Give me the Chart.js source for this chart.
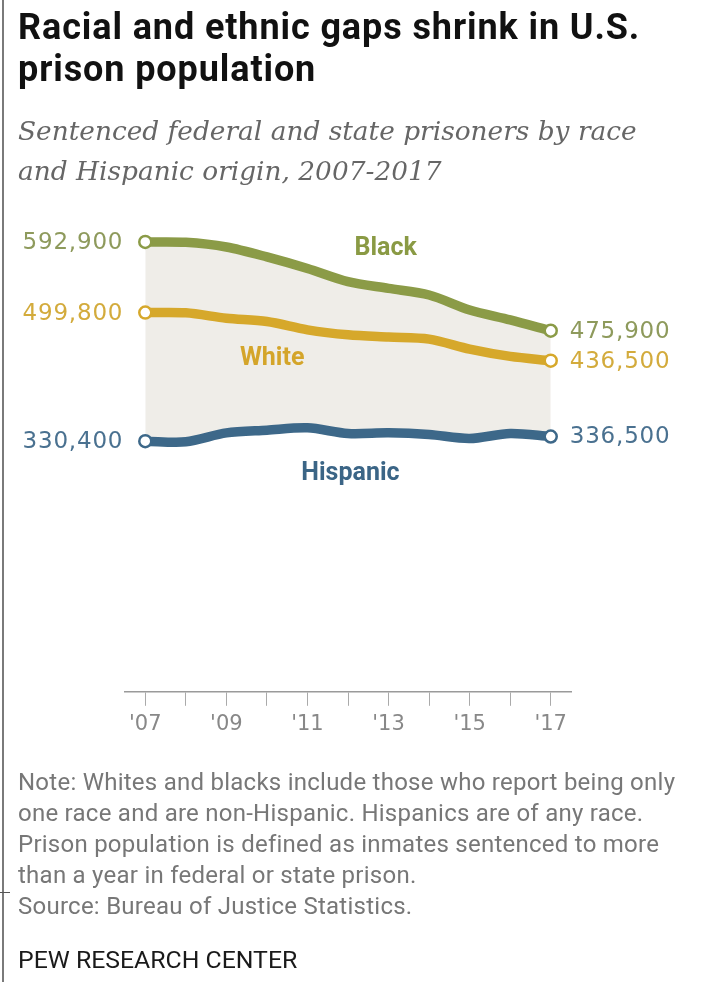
<!DOCTYPE html>
<html>
<head>
<meta charset="utf-8">
<script src="https://cdn.jsdelivr.net/npm/chart.js@4"></script>
<style>
  html, body { margin: 0; padding: 0; background: #fff; }
  #page { position: relative; width: 713px; height: 982px; overflow: hidden; }
  #chart { position: absolute; left: 0; top: 0; }
  .txt { position: absolute; left: 18px; white-space: nowrap; }
  #title { top: 6px; font: bold 36px Roboto, sans-serif; letter-spacing: 0.9px; line-height: 42px; color: #111; }
  #subtitle { top: 111px; font: italic 26.4px "DejaVu Serif", serif; line-height: 40px; color: #666; }
  #note { top: 767px; font: 24px Roboto, sans-serif; letter-spacing: 0.25px; line-height: 31px; color: #777; }
  #credit { top: 944px; font: 24.8px Roboto, sans-serif; line-height: 32px; color: #1a1a1a; }
  #edge { position: absolute; left: 2px; top: 0; width: 2px; height: 982px; background: #7a7a7a; }
  #edgeTick { position: absolute; left: 0; top: 892px; width: 10px; height: 1px; background: #555; }
</style>
</head>
<body>
<div id="page">
  <canvas id="chart" width="713" height="982"></canvas>
  <div id="edge"></div>
  <div id="edgeTick"></div>
  <div id="title" class="txt">Racial and ethnic gaps shrink in U.S.<br>prison population</div>
  <div id="subtitle" class="txt">Sentenced federal and state prisoners by race<br>and Hispanic origin, 2007-2017</div>
  <div id="note" class="txt">Note: Whites and blacks include those who report being only<br>one race and are non-Hispanic. Hispanics are of any race.<br>Prison population is defined as inmates sentenced to more<br>than a year in federal or state prison.<br>Source: Bureau of Justice Statistics.</div>
  <div id="credit" class="txt">PEW RESEARCH CENTER</div>
</div>
<script>
// Sentenced prisoners, 2007-2017
const years = ['2007', '2008', '2009', '2010', '2011', '2012', '2013', '2014', '2015', '2016', '2017'];
const black = [592900, 592500, 586300, 573200, 557900, 540500, 531700, 523000, 503300, 490200, 475900];
const white = [499800, 499500, 492400, 488000, 477100, 470500, 467500, 464800, 451700, 442100, 436500];
const hispanic = [330400, 329500, 341300, 344800, 347900, 340500, 341300, 339100, 333900, 340500, 336500];
const seriesNames = ['Black', 'White', 'Hispanic'];

const lineColors = ['#8b9b47', '#d6a82b', '#3d6889'];
const valueColors = ['#8e9a5c', '#d3ab3c', '#4a7190'];
const nameColors = ['#8a9a44', '#d4a52a', '#3b6586'];

// hollow circle only at the two ends of each line
function endRadius(values) {
  return values.map((v, i) => (i === 0 || i === values.length - 1) ? 6 : 0);
}

// series names sit inside the plot: [category index, value]
const nameAnchors = [[5.93, 584500], [3.13, 439100], [5.06, 287000]];

const fmt = v => v.toLocaleString('en-US');

const labelPlugin = {
  id: 'lineLabels',
  afterDatasetsDraw(chart) {
    const ctx = chart.ctx;
    const xs = chart.scales.x, ys = chart.scales.y;
    ctx.save();
    ctx.textBaseline = 'middle';
    chart.data.datasets.forEach((ds, i) => {
      const first = ds.data[0], last = ds.data[ds.data.length - 1];
      ctx.font = '23px "DejaVu Sans", sans-serif';
      ctx.letterSpacing = '0.8px';
      ctx.fillStyle = valueColors[i];
      ctx.textAlign = 'right';
      ctx.fillText(fmt(first), xs.getPixelForValue(0) - 22, ys.getPixelForValue(first) + 1);
      ctx.textAlign = 'left';
      ctx.fillText(fmt(last), xs.getPixelForValue(ds.data.length - 1) + 19, ys.getPixelForValue(last) + 1);

      const a = nameAnchors[i];
      const step = xs.getPixelForValue(1) - xs.getPixelForValue(0);
      ctx.font = 'bold 25px Roboto, sans-serif';
      ctx.letterSpacing = '0px';
      ctx.fillStyle = nameColors[i];
      ctx.textAlign = 'center';
      ctx.fillText(ds.label, xs.getPixelForValue(0) + a[0] * step, ys.getPixelForValue(a[1]));
    });
    ctx.restore();
  }
};

const series = [black, white, hispanic];

new Chart(document.getElementById('chart').getContext('2d'), {
  type: 'line',
  data: {
    labels: years,
    datasets: series.map((vals, i) => ({
      label: seriesNames[i],
      data: vals,
      borderColor: lineColors[i],
      borderWidth: 9.5,
      tension: 0.3,
      pointRadius: endRadius(vals),
      pointHoverRadius: 0,
      pointBackgroundColor: '#fff',
      pointBorderColor: lineColors[i],
      pointBorderWidth: 2.5,
      fill: i === 0 ? { target: 2 } : false,
      backgroundColor: i === 0 ? '#efede8' : 'transparent'
    }))
  },
  options: {
    responsive: false,
    animation: false,
    layout: { padding: { left: 125, right: 142, top: 163, bottom: 239 } },
    plugins: {
      legend: { display: false },
      tooltip: { enabled: false },
      filler: { drawTime: 'beforeDatasetsDraw' }
    },
    scales: {
      x: {
        type: 'category',
        offset: true,
        grid: { drawOnChartArea: false, drawTicks: true, tickLength: 14, tickColor: '#aaa', tickWidth: 1 },
        border: { display: true, color: '#9a9a9a', width: 1.5 },
        ticks: {
          autoSkip: false,
          maxRotation: 0,
          padding: 6,
          color: '#888',
          font: { family: '"DejaVu Sans", sans-serif', size: 21 },
          callback: function (val, i) {
            return i % 2 === 0 ? "'" + years[i].slice(2) : '';
          }
        }
      },
      y: {
        display: false,
        min: 0,
        max: 697000
      }
    }
  },
  plugins: [labelPlugin]
});
</script>
</body>
</html>
